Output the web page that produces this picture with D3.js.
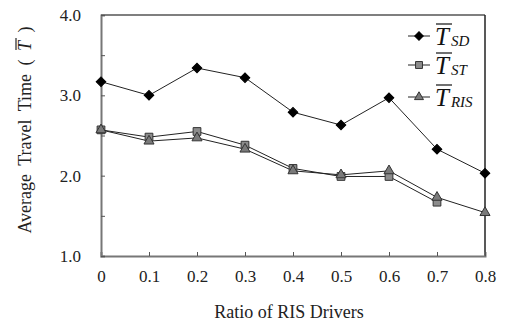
<!DOCTYPE html>
<html>
<head>
<meta charset="utf-8">
<script src="https://cdn.jsdelivr.net/npm/d3@7"></script>
<style>
  body { margin: 0; background: #fff; }
  svg text { font-family: "Liberation Serif", "Times New Roman", serif !important; }
</style>
</head>
<body>
<div id="chart"></div>
<script>
const ratios = [0, 0.1, 0.2, 0.3, 0.4, 0.5, 0.6, 0.7, 0.8];
const tSD = [3.17, 3.00, 3.34, 3.22, 2.79, 2.63, 2.97, 2.33, 2.03];
const tST = [2.57, 2.48, 2.55, 2.38, 2.09, 1.99, 1.99, 1.67];
const tRIS = [2.57, 2.43, 2.47, 2.33, 2.06, 2.01, 2.06, 1.73, 1.54];
const yTicks = [1.0, 1.5, 2.0, 2.5, 3.0, 3.5, 4.0];
const seriesNames = ['SD', 'ST', 'RIS'];

const W = 511, H = 324;
const margin = { top: 15, right: 26, bottom: 68, left: 101 };
const width = W - margin.left - margin.right;
const height = H - margin.top - margin.bottom;

const svg = d3.select('#chart').append('svg')
  .attr('width', W)
  .attr('height', H);

const g = svg.append('g')
  .attr('transform', `translate(${margin.left},${margin.top})`);

const x = d3.scaleLinear().domain([0, 0.8]).range([0, width]);
const y = d3.scaleLinear().domain([1, 4]).range([height, 0]);

// frame: top/right dark, left/bottom gray
g.append('line').attr('x1', 0).attr('x2', width).attr('y1', 0).attr('y2', 0)
  .attr('stroke', '#555').attr('stroke-width', 1.5);
g.append('line').attr('x1', width).attr('x2', width).attr('y1', 0).attr('y2', height)
  .attr('stroke', '#222').attr('stroke-width', 1.5);

// axes with inward ticks
const xAxis = g.append('g')
  .attr('transform', `translate(0,${height})`)
  .call(d3.axisBottom(x).tickValues(ratios).tickSize(-4).tickPadding(14)
    .tickFormat(d => d === 0 ? '0' : d3.format('.1f')(d)));
const yAxis = g.append('g')
  .call(d3.axisLeft(y).tickValues(yTicks).tickSize(-4).tickPadding(20)
    .tickFormat(d => Number.isInteger(d) ? d3.format('.1f')(d) : ''));

[xAxis, yAxis].forEach(a => {
  a.attr('font-family', null);
  a.select('.domain').attr('stroke', '#777').attr('stroke-width', 2);
  a.selectAll('.tick line').attr('stroke', '#555');
  a.selectAll('.tick text').attr('fill', '#222').attr('font-size', 17);
});
xAxis.selectAll('.tick text').attr('dy', '0.71em');

const line = d3.line().x((d, i) => x(ratios[i])).y(d => y(d));

const styles = {
  SD: { data: tSD, symbol: d3.symbolSquare, size: 46, rot: 45, fill: '#000', stroke: '#000' },
  ST: { data: tST, symbol: d3.symbolSquare, size: 60, rot: 0, fill: '#8c8c8c', stroke: '#333' },
  RIS: { data: tRIS, symbol: d3.symbolTriangle, size: 44, rot: 0, fill: '#7a7a7a', stroke: '#333' }
};

['ST', 'RIS', 'SD'].forEach(name => {
  const s = styles[name];
  g.append('path')
    .datum(s.data)
    .attr('fill', 'none')
    .attr('stroke', '#222')
    .attr('stroke-width', 1)
    .attr('d', line);
});
['ST', 'RIS', 'SD'].forEach(name => {
  const s = styles[name];
  g.selectAll(`.pt-${name}`)
    .data(s.data)
    .enter()
    .append('path')
      .attr('class', `pt-${name}`)
      .attr('transform', (d, i) => `translate(${x(ratios[i])},${y(d)}) rotate(${s.rot})`)
      .attr('d', d3.symbol().type(s.symbol).size(s.size))
      .attr('fill', s.fill)
      .attr('stroke', s.stroke)
      .attr('stroke-width', 1);
});

// legend
const legendY = [36, 65, 97];
const legend = svg.append('g');
seriesNames.forEach((name, i) => {
  const s = styles[name];
  const row = legend.append('g').attr('transform', `translate(0,${legendY[i]})`);
  row.append('line').attr('x1', 408).attr('x2', 430).attr('y1', 0).attr('y2', 0)
    .attr('stroke', '#222').attr('stroke-width', 1);
  row.append('path')
    .attr('transform', `translate(419,0) rotate(${s.rot})`)
    .attr('d', d3.symbol().type(s.symbol).size(s.size * 0.8))
    .attr('fill', s.fill).attr('stroke', s.stroke);
  const t = row.append('text')
    .attr('x', 435).attr('y', 9)
    .attr('fill', '#111')
    .attr('font-style', 'italic');
  const tT = t.append('tspan').attr('font-size', 25).text('T');
  t.append('tspan').attr('font-size', 15).attr('dx', 2).attr('dy', 1).text(name);
  const bb = tT.node().getBBox();
  row.append('line')
    .attr('x1', bb.x + 1).attr('x2', bb.x + bb.width + 1)
    .attr('y1', -12).attr('y2', -12)
    .attr('stroke', '#111').attr('stroke-width', 1.2);
});

// axis titles
svg.append('text')
  .attr('x', margin.left + width / 2 - 4)
  .attr('y', 318)
  .attr('text-anchor', 'middle')
  .attr('font-size', 18)
  .attr('fill', '#222')
  .text('Ratio of RIS Drivers');

const yl = svg.append('g').attr('transform', 'translate(31,130) rotate(-90)');
const ylt = yl.append('text')
  .attr('text-anchor', 'middle')
  .attr('font-size', 18)
  .attr('fill', '#222')
  .attr('word-spacing', 4);
ylt.append('tspan').text('Average Travel  Time ( ');
const yT = ylt.append('tspan').attr('font-style', 'italic').text('T');
ylt.append('tspan').text(' )');
const ybb = yT.node().getBBox();
yl.append('line')
  .attr('x1', ybb.x + 1).attr('x2', ybb.x + ybb.width + 1)
  .attr('y1', ybb.y + 1).attr('y2', ybb.y + 1)
  .attr('stroke', '#111').attr('stroke-width', 1.1);
</script>
</body>
</html>
